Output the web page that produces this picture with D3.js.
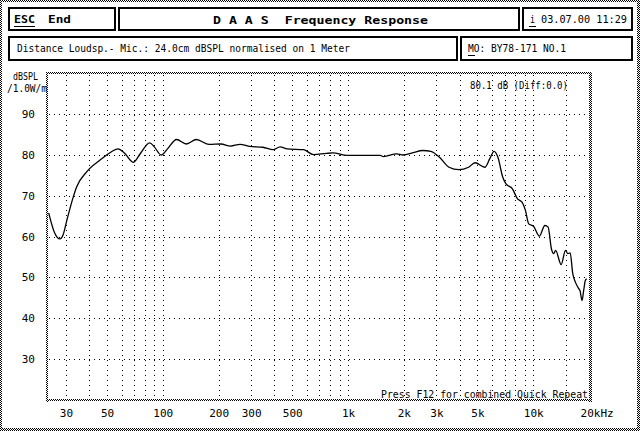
<!DOCTYPE html>
<html><head><meta charset="utf-8">
<script src="https://cdn.jsdelivr.net/npm/d3@7"></script>
<style>
html,body{margin:0;padding:0;background:#fff;}
svg{display:block;}
text{font-family:"DejaVu Sans Mono",monospace;fill:#000;white-space:pre;}
</style></head>
<body>
<svg id="c" width="640" height="431"></svg>
<script>
// ---- data ----
const freqHz = [24.2,26.0,27.8,29.0,30.3,32.8,34.2,38.7,45.7,51.6,57.3,62,69.2,76,84.9,90,98,106,118.6,134,151.6,178,206,232,261,295,347,394,430,469,576,650,764,828,989,1492,1553,1830,1985,2246,2533,2800,3109,3510,3963,4476,4850,5479,5826,6138,6440,6840,7125,7720,8200,8710,9073,9450,10040,10790,11550,12030,12530,12890,13200,14150,14930,15370,15820,16340,16880,17600,17890,18330,18710,19100,19420];
const splDb = [65.8,61.0,59.4,60.5,63.9,69.6,72.1,75.8,78.7,80.5,81.5,80.5,78.2,80.5,83.0,82.0,80.0,81.5,83.8,82.7,83.8,82.6,82.7,82.2,82.6,82.1,81.9,81.3,82.0,81.5,81.3,80.1,80.4,80.5,79.9,79.9,79.6,80.3,80.0,80.6,81.1,80.9,79.5,77.0,76.4,77.0,78.1,77.0,79.1,80.9,79.5,74.6,72.9,71.7,69.3,68.4,66.4,63.1,62.5,60.1,62.7,62.3,57.0,55.8,56.6,53.1,56.6,55.8,56.0,50.9,48.8,47.2,46.7,44.3,46.7,49.2,49.6];
const xTickValues = [30,50,100,200,300,500,1000,2000,3000,5000,10000,20000];
const xTickLabels = ["30","50","100","200","300","500","1k","2k","3k","5k","10k","20kHz"];
const xGridValues = [30,40,50,60,70,80,90,100,200,300,400,500,600,700,800,900,1000,2000,3000,4000,5000,6000,7000,8000,9000,10000,15000];
const yTickValues = [30,40,50,60,70,80,90];

const svg = d3.select("#c");
const W = 640, H = 431;

// dither pattern
const defs = svg.append("defs");
const pat = defs.append("pattern").attr("id","dith").attr("width",2).attr("height",2).attr("patternUnits","userSpaceOnUse");
pat.append("rect").attr("x",0).attr("y",0).attr("width",1).attr("height",1).attr("fill","#000");
pat.append("rect").attr("x",1).attr("y",1).attr("width",1).attr("height",1).attr("fill","#000");

function dRect(x,y,w,h){ svg.append("rect").attr("x",x).attr("y",y).attr("width",w).attr("height",h).attr("fill","url(#dith)").attr("shape-rendering","crispEdges"); }
// outer frame
dRect(0,0,W,2); dRect(0,H-3,W,3); dRect(0,0,2,H); dRect(W-3,0,3,H);

// header boxes
function box(x,y,w,h){ svg.append("rect").attr("x",x).attr("y",y).attr("width",w).attr("height",h).attr("fill","none").attr("stroke","#000").attr("stroke-width",2.5).attr("shape-rendering","crispEdges"); }
box(9,8,106,22); box(119,8,400,22); box(523,8,109,22);
box(9,37,448,23); box(461,37,171,23);

function txt(s,x,y,len,opts={}){
  const t = svg.append("text").attr("x",x).attr("y",y).attr("xml:space","preserve").text(s).attr("font-size",opts.size||11);
  if(len){ t.attr("textLength",len).attr("lengthAdjust","spacingAndGlyphs"); }
  if(opts.bold) t.attr("font-weight","bold");
  if(opts.anchor) t.attr("text-anchor",opts.anchor);
  return t;
}
function uline(x1,x2,y){ svg.append("line").attr("x1",x1).attr("x2",x2).attr("y1",y).attr("y2",y).attr("stroke","#000").attr("stroke-width",1).attr("shape-rendering","crispEdges"); }

txt("ESC",14,23,21,{bold:true}); uline(14,35,26);
txt("End",48,23,23,{bold:true});
txt("D A A S  Frequency Response",213,24,215,{bold:true});
txt("i",530,23,5); uline(529,536,26);
txt("03.07.00 11:29",541,23,86);
txt("Distance Loudsp.- Mic.: 24.0cm dBSPL normalised on 1 Meter",17,52,333);
txt("MO: BY78-171 NO.1",468,52,98); uline(468,475,55);

// plot
const L=47, R=591, T=73, B=400;
const x = d3.scaleLog().domain([23.7,20500]).range([L,R]);
const y = d3.scaleLinear().domain([20,100]).range([399.5,73.5]);

// grid
svg.append("g").selectAll("line").data(xGridValues).join("line")
  .attr("x1",d=>Math.round(x(d))+0.5).attr("x2",d=>Math.round(x(d))+0.5)
  .attr("y1",T+2).attr("y2",B-1).attr("stroke","#000").attr("stroke-width",1)
  .attr("stroke-dasharray","1,4");
svg.append("g").selectAll("line").data(yTickValues).join("line")
  .attr("y1",d=>Math.round(y(d))+0.5).attr("y2",d=>Math.round(y(d))+0.5)
  .attr("x1",L+2).attr("x2",R-2).attr("stroke","#000").attr("stroke-width",1)
  .attr("stroke-dasharray","1,4");

// plot border (dithered)
dRect(L-1,T,2,B-T+2); dRect(R-2,T,3,B-T+2); dRect(L-1,T-1,R-L+2,2); dRect(L-1,B-1,R-L+2,2);

// curve
const pts = freqHz.map((f,i)=>[f,splDb[i]]);
svg.append("path").datum(pts)
  .attr("d", d3.line().x(d=>x(d[0])).y(d=>y(d[1])).curve(d3.curveMonotoneX))
  .attr("fill","none").attr("stroke","#000").attr("stroke-width",1.3);

// axes
const ax = svg.append("g").attr("transform",`translate(0,${B})`)
  .call(d3.axisBottom(x).tickValues(xTickValues).tickFormat((d,i)=>xTickLabels[i]).tickSize(0).tickPadding(9));
ax.select(".domain").remove();
ax.selectAll("text").attr("font-family","DejaVu Sans Mono").attr("font-size",11).attr("fill","#000");
ax.selectAll(".tick").filter(d=>d===20000).select("text").attr("text-anchor","start").attr("dx",-9);

const ay = svg.append("g").attr("transform",`translate(${L},0)`)
  .call(d3.axisLeft(y).tickValues(yTickValues).tickSize(0).tickPadding(12));
ay.select(".domain").remove();
ay.selectAll("text").attr("font-family","DejaVu Sans Mono").attr("font-size",11).attr("fill","#000");

txt("dBSPL",13,80,25,{size:10});
txt("/1.0W/m",7,92,40,{size:10});
txt("80.1 dB (Diff:0.0)",470,89,98);
txt("Press F12 for combined Quick Repeat",381,398,207);
</script>
</body></html>
